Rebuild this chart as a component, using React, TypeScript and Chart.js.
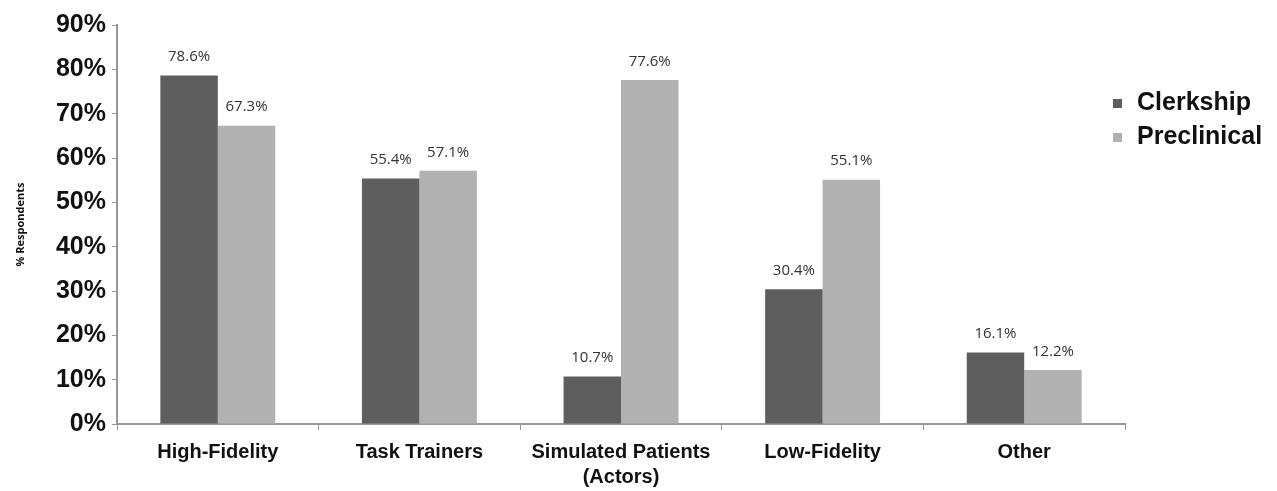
import React, { useEffect, useRef } from "react";
import { Chart, registerables } from "chart.js";

Chart.register(...registerables);

const categories: (string | string[])[] = [
  "High-Fidelity",
  "Task Trainers",
  ["Simulated Patients", "(Actors)"],
  "Low-Fidelity",
  "Other",
];
const clerkship = [78.6, 55.4, 10.7, 30.4, 16.1];
const preclinical = [67.3, 57.1, 77.6, 55.1, 12.2];
const seriesNames = ["Clerkship", "Preclinical"];
const seriesColors = ["#5e5e5e", "#b1b1b1"];
const yTicks = [0, 10, 20, 30, 40, 50, 60, 70, 80, 90];

const labelPlugin = {
  id: "valueLabels",
  afterDatasetsDraw(chart: any) {
    const ctx = chart.ctx;
    ctx.save();
    ctx.font = "15px 'Open Sans', sans-serif";
    ctx.fillStyle = "#333";
    ctx.textAlign = "center";
    ctx.textBaseline = "bottom";
    chart.data.datasets.forEach((ds: any, i: number) => {
      const meta = chart.getDatasetMeta(i);
      meta.data.forEach((bar: any, j: number) => {
        ctx.fillText(ds.data[j].toFixed(1) + "%", bar.x, bar.y - 11);
      });
    });
    ctx.restore();
  },
};

const legendPlugin = {
  id: "customLegend",
  afterDraw(chart: any) {
    const ctx = chart.ctx;
    ctx.save();
    ctx.font = "bold 25px 'Liberation Sans', Arial, sans-serif";
    ctx.textBaseline = "middle";
    ctx.textAlign = "left";
    seriesNames.forEach((name, i) => {
      const y = 103 + i * 34;
      ctx.fillStyle = seriesColors[i];
      ctx.fillRect(1113, y - 4, 9, 9);
      ctx.fillStyle = "#111";
      ctx.fillText(name, 1137, y);
    });
    ctx.restore();
  },
};

export default function App() {
  const ref = useRef<HTMLCanvasElement>(null);
  useEffect(() => {
    if (!ref.current) return;
    const chart = new Chart(ref.current, {
      type: "bar",
      data: {
        labels: categories,
        datasets: [
          { label: seriesNames[0], data: clerkship, backgroundColor: seriesColors[0] },
          { label: seriesNames[1], data: preclinical, backgroundColor: seriesColors[1] },
        ],
      },
      options: {
        animation: false,
        responsive: true,
        maintainAspectRatio: false,
        layout: { padding: { top: 25, right: 152, left: 0, bottom: 0 } },
        datasets: { bar: { categoryPercentage: 0.57, barPercentage: 1 } },
        plugins: { legend: { display: false }, tooltip: { enabled: false } },
        scales: {
          x: {
            grid: { display: true, drawOnChartArea: false, drawTicks: true, tickLength: 6, color: "#999", offset: true },
            border: { display: true, color: "#999", width: 2 },
            ticks: {
              color: "#111",
              font: { family: "'Liberation Sans', Arial, sans-serif", size: 20, weight: "bold", lineHeight: "25px" },
              padding: 10,
              maxRotation: 0,
              autoSkip: false,
            },
            afterFit(scale: any) {
              scale.height = 67;
            },
          },
          y: {
            min: 0,
            max: 90,
            afterBuildTicks(scale: any) {
              scale.ticks = yTicks.map((v) => ({ value: v }));
            },
            grid: { display: true, drawOnChartArea: false, drawTicks: true, tickLength: 5, color: "#999" },
            border: { display: true, color: "#999", width: 2 },
            ticks: {
              color: "#111",
              font: { family: "'Liberation Sans', Arial, sans-serif", size: 25, weight: "bold" },
              padding: 6,
              callback: (v: any) => v + "%",
            },
            title: {
              display: true,
              text: "% Respondents",
              color: "#111",
              font: { family: "'Open Sans', sans-serif", size: 11, weight: "bold" },
              padding: { top: 14, bottom: 0 },
            },
            afterFit(scale: any) {
              scale.width = 117;
            },
          },
        },
      },
      plugins: [labelPlugin, legendPlugin],
    });
    return () => chart.destroy();
  }, []);
  return (
    <div style={{ position: "fixed", left: 0, top: 0, width: 1277, height: 491, background: "#fff" }}>
      <canvas ref={ref} />
    </div>
  );
}
